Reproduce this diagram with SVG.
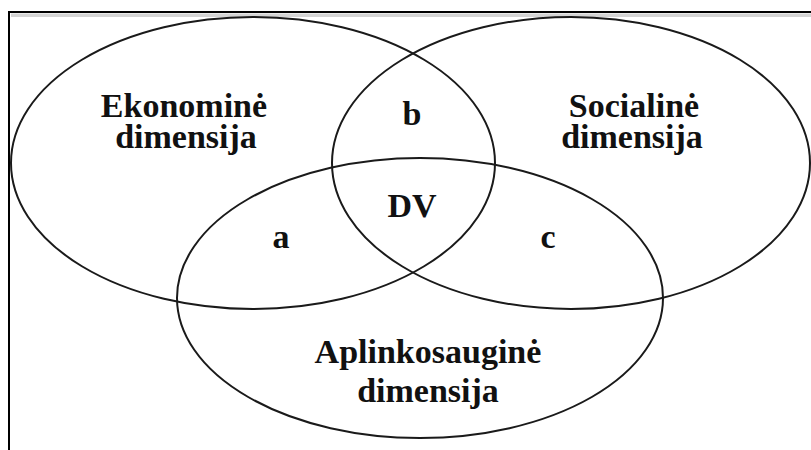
<svg xmlns="http://www.w3.org/2000/svg" width="811" height="450" viewBox="0 0 811 450">
<style>
.ring{fill:none;stroke:#1a1a1a;stroke-width:2}
.lbl{font-family:"Liberation Serif","Times New Roman",serif;font-weight:bold;font-size:34px;fill:#111;text-anchor:middle}
</style>
<rect width="811" height="450" fill="#ffffff"/>
<g id="frame">
<rect x="11" y="13.5" width="800" height="3.5" fill="#d4d4d4"/>
<line x1="8.5" y1="12" x2="811" y2="12" stroke="#000" stroke-width="2"/>
<line x1="9" y1="11" x2="9" y2="450" stroke="#000" stroke-width="2"/>
</g>
<g id="ekonomine">
<ellipse class="ring" cx="253" cy="163" rx="242" ry="146"/>
<text class="lbl" x="184" y="117">Ekonominė</text>
<text class="lbl" x="186" y="148">dimensija</text>
</g>
<g id="socialine">
<ellipse class="ring" cx="571" cy="163" rx="239" ry="146"/>
<text class="lbl" x="634" y="117">Socialinė</text>
<text class="lbl" x="632" y="148">dimensija</text>
</g>
<g id="aplinkosaugine">
<ellipse class="ring" cx="420" cy="298" rx="243" ry="140"/>
<text class="lbl" x="428" y="363">Aplinkosauginė</text>
<text class="lbl" x="428" y="402">dimensija</text>
</g>
<g id="region-b"><text class="lbl" x="412" y="125">b</text></g>
<g id="region-dv"><text class="lbl" x="412" y="217">DV</text></g>
<g id="region-a"><text class="lbl" x="281" y="248">a</text></g>
<g id="region-c"><text class="lbl" x="548" y="248">c</text></g>
<g id="connectors"/>
</svg>
